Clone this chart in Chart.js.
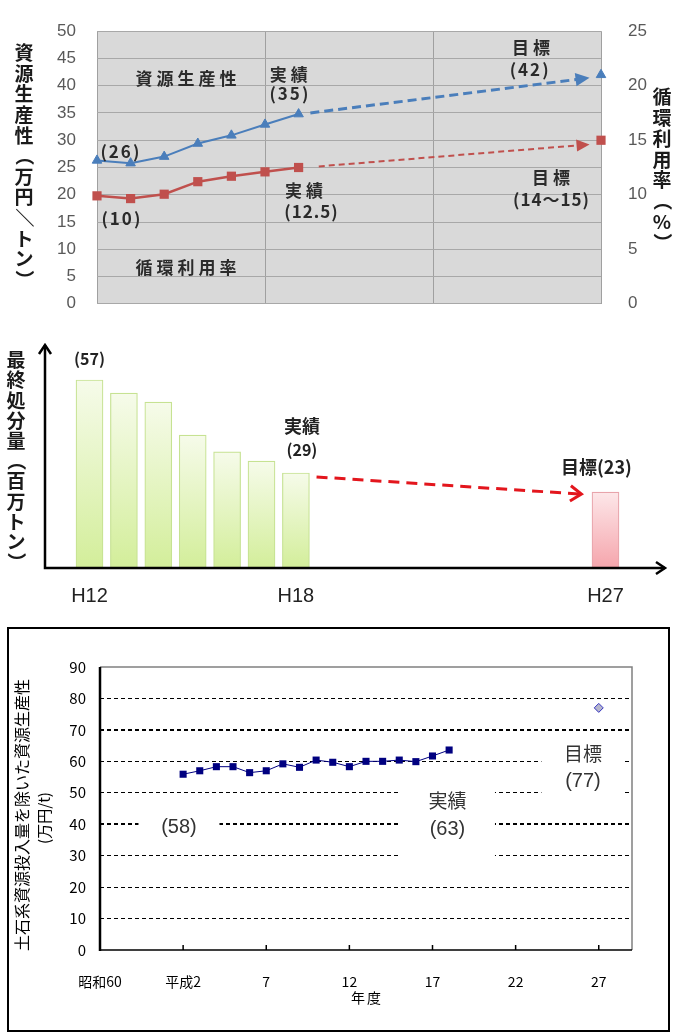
<!DOCTYPE html>
<html>
<head>
<meta charset="utf-8">
<script src="https://cdn.jsdelivr.net/npm/chart.js@4.4.1/dist/chart.umd.min.js"></script>
<style>
  body { margin: 0; background: #fff; width: 674px; height: 1035px; position: relative; overflow: hidden; }
  canvas { position: absolute; left: 0; }
  #top { top: 0; }
  #mid { top: 335px; }
  #bot { top: 610px; }
  #box { position: absolute; left: 7px; top: 627px; width: 663px; height: 405px; border: 2px solid #000; box-sizing: border-box; }
</style>
</head>
<body>
<div id="box"></div>
<canvas id="top" width="674" height="335"></canvas>
<canvas id="mid" width="674" height="275"></canvas>
<canvas id="bot" width="674" height="425"></canvas>
<script>
// --- top: 資源生産性 / 循環利用率 (H12-H18 実績, H27 目標)
const years = [12, 13, 14, 15, 16, 17, 18];
const productivity = [26.3, 25.8, 27.0, 29.4, 30.9, 32.9, 34.8];
const cycleRate = [9.9, 9.65, 10.05, 11.2, 11.7, 12.1, 12.5];
const targetYear = 27;
const productivityTarget = 42;
const cycleRateTarget = 15;
const productivityTrend = [{x: 18.35, y: 35.0}, {x: 26.6, y: 41.4}];
const cycleRateTrend = [{x: 18.6, y: 12.6}, {x: 26.6, y: 14.6}];
const topGridYears = [12, 17, 22, 27];

// --- middle: 最終処分量 (百万トン)
const disposal = [57, 53, 50.3, 40.3, 35.2, 32.4, 28.8];
const disposalTarget = 23;
const disposalTrend = [{x: 18.6, y: 27.6}, {x: 26.3, y: 22.4}];
const midTickYears = [12, 18, 27];

// --- bottom: 土石系資源投入量を除いた資源生産性 (万円/t)
const fiscalYears = [1990, 1991, 1992, 1993, 1994, 1995, 1996, 1997, 1998,
  1999, 2000, 2001, 2002, 2003, 2004, 2005, 2006];
const exSoil = [55.9, 57.0, 58.3, 58.3, 56.4, 57.0, 59.2, 58.1, 60.4,
  59.7, 58.3, 60.0, 60.0, 60.4, 59.9, 61.7, 63.6];
const exSoilTargetYear = 2015;
const exSoilTarget = 77;
const yearTicks = [1985, 1990, 1995, 2000, 2005, 2010, 2015];
const yearTickLabels = ['昭和60', '平成2', '7', '12', '17', '22', '27'];

const JP = '"Noto Sans CJK JP", sans-serif';
const LAT = '"Liberation Sans", Arial, sans-serif';
const BLUE = '#4a7ebb';
const RED = '#c0504d';

function text(ctx, s, x, y, font, color, spacing) {
  ctx.save();
  ctx.font = font;
  ctx.fillStyle = color;
  ctx.textAlign = 'center';
  ctx.textBaseline = 'middle';
  if (spacing) ctx.letterSpacing = spacing + 'px';
  ctx.fillText(s, x + (spacing || 0) / 2, y);
  ctx.restore();
}
// stacked vertical text; brackets and slash are turned like in vertical writing
function vtext(ctx, s, x, y0, step, font, color) {
  [...s].forEach((c, i) => {
    const y = y0 + i * step;
    if ('（）／'.includes(c)) {
      ctx.save();
      ctx.translate(x, y);
      ctx.rotate(Math.PI / 2);
      text(ctx, c, 0, 0, font, color);
      ctx.restore();
    } else {
      text(ctx, c, x, y, font, color);
    }
  });
}
function pts(xs, ys) {
  return xs.map((x, i) => ({x: x, y: ys[i]}));
}
function fixedTicks(list) {
  return s => { s.ticks = list.map(v => ({value: v})); };
}

// arrow head at the end of a trend line
const arrowHeads = {
  id: 'arrowHeads',
  afterDatasetsDraw(chart) {
    const ctx = chart.ctx;
    chart.data.datasets.forEach((ds, i) => {
      if (!ds.arrowHead) return;
      const d = chart.getDatasetMeta(i).data;
      const a = d[d.length - 2], b = d[d.length - 1];
      const ang = Math.atan2(b.y - a.y, b.x - a.x);
      const L = ds.arrowHead.size;
      ctx.save();
      ctx.translate(b.x, b.y);
      ctx.rotate(ang);
      ctx.beginPath();
      if (ds.arrowHead.open) {
        ctx.moveTo(-L, -L * 0.7);
        ctx.lineTo(0, 0);
        ctx.lineTo(-L, L * 0.7);
        ctx.strokeStyle = ds.borderColor;
        ctx.lineWidth = ds.borderWidth;
        ctx.stroke();
      } else {
        ctx.moveTo(2, 0);
        ctx.lineTo(-L, -L * 0.55);
        ctx.lineTo(-L, L * 0.55);
        ctx.closePath();
        ctx.fillStyle = ds.borderColor;
        ctx.fill();
      }
      ctx.restore();
    });
  }
};

// ---------------- top chart
const topNotes = [
  {x: 14.65, y: 41.3, t: '資源生産性', sp: 4},
  {x: 17.71, y: 42.0, t: '実績', sp: 4},
  {x: 17.71, y: 38.5, t: '(35)', sp: 2},
  {x: 12.68, y: 28.0, t: '(26)', sp: 2},
  {x: 12.71, y: 15.6, t: '(10)', sp: 2},
  {x: 18.16, y: 20.8, t: '実績', sp: 4},
  {x: 18.37, y: 16.9, t: '(12.5)', sp: 1},
  {x: 14.65, y: 6.7, t: '循環利用率', sp: 4},
  {x: 24.92, y: 47.0, t: '目標', sp: 4},
  {x: 24.86, y: 43.0, t: '(42)', sp: 2},
  {x: 25.51, y: 23.2, t: '目標', sp: 4},
  {x: 25.51, y: 19.1, t: '(14～15)', sp: 1}
];

const topDecor = {
  id: 'topDecor',
  beforeDraw(chart) {
    const {ctx, chartArea: a} = chart;
    ctx.save();
    ctx.fillStyle = '#d9d9d9';
    ctx.fillRect(a.left, a.top, a.right - a.left, a.bottom - a.top);
    ctx.restore();
  },
  afterDraw(chart) {
    const {ctx, scales} = chart;
    topNotes.forEach(n => {
      text(ctx, n.t, scales.x.getPixelForValue(n.x), scales.y.getPixelForValue(n.y),
        'bold 17px ' + JP, '#2b2b2b', n.sp);
    });
    vtext(ctx, '資源生産性（万円／トン）', 24, 53, 20.6, 'bold 19px ' + JP, '#1a1a1a');
    vtext(ctx, '循環利用率（%）', 662, 97, 20.8, 'bold 19px ' + JP, '#1a1a1a');
  }
};

new Chart(document.getElementById('top'), {
  type: 'line',
  data: {
    datasets: [
      {data: pts(years, productivity), yAxisID: 'y', borderColor: BLUE, backgroundColor: BLUE, clip: false,
        borderWidth: 2, pointStyle: 'triangle', pointRadius: 5.5, pointBorderWidth: 1},
      {data: pts(years, cycleRate), yAxisID: 'y2', borderColor: RED, backgroundColor: RED, clip: false,
        borderWidth: 2.5, pointStyle: 'rect', pointRadius: 6.5, pointBorderWidth: 0},
      {data: productivityTrend, yAxisID: 'y', borderColor: BLUE, borderWidth: 3,
        borderDash: [9, 5], pointRadius: 0, arrowHead: {size: 12}},
      {data: cycleRateTrend, yAxisID: 'y2', borderColor: RED, borderWidth: 2,
        borderDash: [6, 4], pointRadius: 0, arrowHead: {size: 11}},
      {data: [{x: targetYear, y: productivityTarget}], yAxisID: 'y', showLine: false, clip: false,
        pointStyle: 'triangle', pointRadius: 5.5, backgroundColor: BLUE, borderColor: BLUE},
      {data: [{x: targetYear, y: cycleRateTarget}], yAxisID: 'y2', showLine: false, clip: false,
        pointStyle: 'rect', pointRadius: 6.5, pointBorderWidth: 0, backgroundColor: RED, borderColor: RED}
    ]
  },
  options: {
    responsive: false,
    animation: false,
    layout: {padding: {top: 22, left: 0, right: 0, bottom: 0}},
    plugins: {legend: {display: false}, tooltip: {enabled: false}},
    scales: {
      x: {
        type: 'linear', min: 12, max: 27,
        afterBuildTicks: fixedTicks(topGridYears),
        ticks: {display: false},
        grid: {color: '#a0a0a0', drawTicks: false},
        border: {display: false},
        afterFit: s => { s.height = 15; }
      },
      y: {
        position: 'left', min: 0, max: 50,
        ticks: {stepSize: 5, color: '#595959', font: {family: LAT, size: 17}, padding: 21},
        grid: {color: '#a8a8a8', drawTicks: false},
        border: {display: false},
        afterFit: s => { s.width = 97; }
      },
      y2: {
        position: 'right', min: 0, max: 25,
        ticks: {stepSize: 5, color: '#595959', font: {family: LAT, size: 17}, padding: 19},
        grid: {display: false},
        border: {display: false},
        afterFit: s => { s.width = 73; }
      }
    }
  },
  plugins: [topDecor, arrowHeads]
});

// ---------------- middle chart
function barGradient(topColor, bottomColor) {
  return c => {
    const chart = c.chart;
    if (!chart.chartArea || c.type !== 'data') return bottomColor;
    const y = chart.scales.y;
    const g = chart.ctx.createLinearGradient(0, y.getPixelForValue(c.raw.y), 0, y.getPixelForValue(0));
    g.addColorStop(0, topColor);
    g.addColorStop(1, bottomColor);
    return g;
  };
}

const midDecor = {
  id: 'midDecor',
  afterDraw(chart) {
    const {ctx, chartArea: a, scales} = chart;
    ctx.save();
    ctx.strokeStyle = '#000';
    ctx.lineWidth = 2.5;
    ctx.beginPath();
    ctx.moveTo(a.left, a.top);
    ctx.lineTo(a.left, a.bottom);
    ctx.lineTo(a.right, a.bottom);
    ctx.stroke();
    ctx.beginPath();
    ctx.moveTo(a.left - 6, a.top + 9);
    ctx.lineTo(a.left, a.top);
    ctx.lineTo(a.left + 6, a.top + 9);
    ctx.moveTo(a.right - 9, a.bottom - 6);
    ctx.lineTo(a.right, a.bottom);
    ctx.lineTo(a.right - 9, a.bottom + 6);
    ctx.stroke();
    ctx.restore();

    midTickYears.forEach(v => {
      text(ctx, 'H' + v, scales.x.getPixelForValue(v), a.bottom + 28, '20px ' + LAT, '#222');
    });
    const x = v => scales.x.getPixelForValue(v);
    const y = v => scales.y.getPixelForValue(v);
    text(ctx, '(57)', x(12), y(disposal[0]) - 21, 'bold 16px ' + JP, '#222');
    text(ctx, '実績', x(18) + 6, y(disposal[6]) - 47, 'bold 18px ' + JP, '#222');
    text(ctx, '(29)', x(18) + 6, y(disposal[6]) - 23, 'bold 16px ' + JP, '#222');
    text(ctx, '目標(23)', x(27) - 9, y(disposalTarget) - 25, 'bold 18px ' + JP, '#222');
    vtext(ctx, '最終処分量（百万トン）', 16, 25, 20.2, 'bold 19px ' + JP, '#1a1a1a');
  }
};

new Chart(document.getElementById('mid'), {
  data: {
    datasets: [
      {type: 'bar', data: pts(years, disposal), grouped: false, barThickness: 27,
        backgroundColor: barGradient('#f6fbea', '#d3ee9a'), borderColor: '#c6e292', borderWidth: 1.2},
      {type: 'bar', data: [{x: targetYear, y: disposalTarget}], grouped: false, barThickness: 27,
        backgroundColor: barGradient('#fde7e9', '#f5a5ac'), borderColor: '#e8a4ab', borderWidth: 1.2},
      {type: 'line', data: disposalTrend, borderColor: '#e3161d', borderWidth: 3,
        borderDash: [11, 7], pointRadius: 0, arrowHead: {size: 11, open: true}}
    ]
  },
  options: {
    responsive: false,
    animation: false,
    layout: {padding: {top: 10, right: 9, left: 0, bottom: 0}},
    plugins: {legend: {display: false}, tooltip: {enabled: false}},
    scales: {
      x: {
        type: 'linear', min: 10.706, max: 28.73, offset: false,
        afterBuildTicks: fixedTicks(midTickYears),
        ticks: {display: false}, grid: {display: false, offset: false}, border: {display: false},
        afterFit: s => { s.height = 42; }
      },
      y: {
        min: 0, max: 67.6,
        ticks: {display: false}, grid: {display: false}, border: {display: false},
        afterFit: s => { s.width = 45; }
      }
    }
  },
  plugins: [midDecor, arrowHeads]
});

// ---------------- bottom chart
const botNotes = [
  {x: 1989.75, y: 39.1, lines: ['(58)'], box: [81, 26]},
  {x: 2005.9, y: 42.9, lines: ['実績', '(63)'], box: [95, 86]},
  {x: 2014.05, y: 58.0, lines: ['目標', '(77)'], box: [83, 62]}
];

const botDecor = {
  id: 'botDecor',
  beforeDatasetsDraw(chart) {
    const {ctx, chartArea: a, scales} = chart;
    ctx.save();
    ctx.fillStyle = '#fff';
    botNotes.forEach(n => {
      const px = scales.x.getPixelForValue(n.x), py = scales.y.getPixelForValue(n.y);
      ctx.fillRect(px - n.box[0] / 2, py - n.box[1] / 2, n.box[0], n.box[1]);
    });
    // frame: grey top/right, black left axis
    ctx.strokeStyle = '#808080';
    ctx.lineWidth = 1.5;
    ctx.beginPath();
    ctx.moveTo(a.left, a.top);
    ctx.lineTo(a.right, a.top);
    ctx.lineTo(a.right, a.bottom);
    ctx.stroke();
    ctx.strokeStyle = '#000';
    ctx.lineWidth = 2.5;
    ctx.beginPath();
    ctx.moveTo(a.left, a.top);
    ctx.lineTo(a.left, a.bottom + 1);
    ctx.stroke();
    ctx.lineWidth = 1.5;
    ctx.beginPath();
    ctx.moveTo(a.left, a.bottom);
    ctx.lineTo(a.right, a.bottom);
    yearTicks.slice(1).forEach(v => {
      const px = scales.x.getPixelForValue(v);
      ctx.moveTo(px, a.bottom);
      ctx.lineTo(px, a.bottom - 5);
    });
    ctx.stroke();
    ctx.restore();
  },
  afterDraw(chart) {
    const {ctx, chartArea: a, scales} = chart;
    botNotes.forEach(n => {
      const px = scales.x.getPixelForValue(n.x), py = scales.y.getPixelForValue(n.y);
      const y0 = py - (n.lines.length - 1) * 14;
      n.lines.forEach((l, i) => {
        const f = /[()0-9]/.test(l) ? '20px ' + LAT : '19px ' + JP;
        text(ctx, l, px, y0 + i * 28, f, '#333');
      });
    });
    text(ctx, '年度', (a.left + a.right) / 2, 388, '14px ' + JP, '#000', 2);
    ctx.save();
    ctx.translate(22, 205);
    ctx.rotate(-Math.PI / 2);
    text(ctx, '土石系資源投入量を除いた資源生産性', 0, 0, '16px ' + JP, '#000');
    ctx.restore();
    ctx.save();
    ctx.translate(44, 208);
    ctx.rotate(-Math.PI / 2);
    text(ctx, '(万円/t)', 0, 0, '15px ' + JP, '#000');
    ctx.restore();
  }
};

new Chart(document.getElementById('bot'), {
  type: 'line',
  data: {
    datasets: [
      {data: pts(fiscalYears, exSoil), borderColor: '#000080', backgroundColor: '#000080',
        borderWidth: 1, pointStyle: 'rect', pointRadius: 5, pointBorderWidth: 0},
      {data: [{x: exSoilTargetYear, y: exSoilTarget}], showLine: false,
        pointStyle: 'rectRot', pointRadius: 4.5, backgroundColor: '#b6b6cc', borderColor: '#3434c0', pointBorderWidth: 1}
    ]
  },
  options: {
    responsive: false,
    animation: false,
    layout: {padding: {top: 57, right: 42, left: 0, bottom: 0}},
    plugins: {legend: {display: false}, tooltip: {enabled: false}},
    scales: {
      x: {
        type: 'linear', min: 1985, max: 2017,
        afterBuildTicks: fixedTicks(yearTicks),
        ticks: {
          callback: v => yearTickLabels[yearTicks.indexOf(v)],
          font: {family: JP, size: 14}, color: '#000', maxRotation: 0, autoSkip: false, padding: 15
        },
        grid: {display: false},
        border: {display: false},
        afterFit: s => { s.height = 85; }
      },
      y: {
        min: 0, max: 90,
        ticks: {stepSize: 10, font: {family: JP, size: 15}, color: '#000', padding: 14},
        grid: {
          color: c => (c.tick.value === 0 || c.tick.value === 90) ? 'rgba(0,0,0,0)' : '#000',
          lineWidth: c => (c.tick.value === 40 || c.tick.value === 70) ? 2 : 1,
          drawTicks: false
        },
        border: {display: false, dash: [4, 3]},
        afterFit: s => { s.width = 100; }
      }
    }
  },
  plugins: [botDecor]
});
</script>
</body>
</html>
